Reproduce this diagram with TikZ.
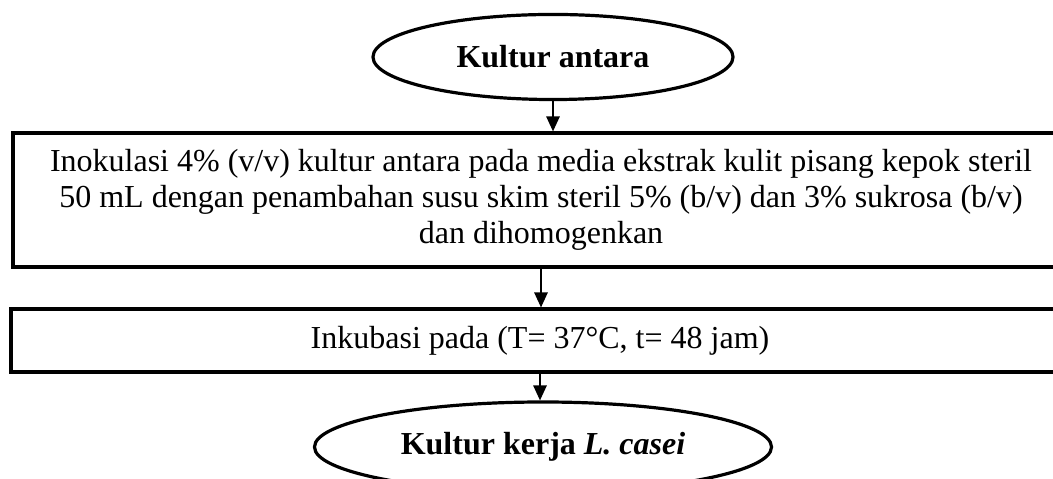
\documentclass[tikz,border=0pt]{standalone}
\usepackage{fontspec}
\setmainfont{Liberation Serif}
\usetikzlibrary{shapes.geometric,arrows.meta}

\begin{document}
\begin{tikzpicture}[x=0.375pt,y=-0.375pt,
  oval/.style={ellipse,draw,line width=1.2pt,font=\fontsize{12}{13.6}\selectfont\bfseries},
  procbox/.style={rectangle,draw,line width=1.2pt,align=center,font=\fontsize{12}{13.6}\selectfont},
  flow/.style={-{Triangle[length=5.6pt,width=5pt]},line width=0.6pt}]
\useasboundingbox (0,0) rectangle (1053,479);
\clip (0,0) rectangle (1053,479);
\node[oval,minimum width=135pt,minimum height=31.9pt] (antara) at (553,57) {Kultur antara};
\node[procbox,minimum width=396pt,minimum height=50.25pt] (inok) at (541,200)
  {Inokulasi 4\% (v/v) kultur antara pada media ekstrak kulit pisang kepok steril\\
   50 mL dengan penambahan susu skim steril 5\% (b/v) dan 3\% sukrosa (b/v)\\
   dan dihomogenkan};
\node[procbox,minimum width=396.75pt,minimum height=23.6pt] (inkub) at (540,340.5)
  {Inkubasi pada (T= 37°C, t= 48 jam)};
\node[oval,minimum width=171.4pt,minimum height=33.75pt] (kerja) at (543,447)
  {Kultur kerja \textit{L. casei}};
\draw[flow] (antara.south) -- (antara.south |- inok.north);
\draw[flow] (inok.south) -- (inok.south |- inkub.north);
\draw[flow] (inkub.south) -- (inkub.south |- kerja.north);
\end{tikzpicture}
\end{document}
